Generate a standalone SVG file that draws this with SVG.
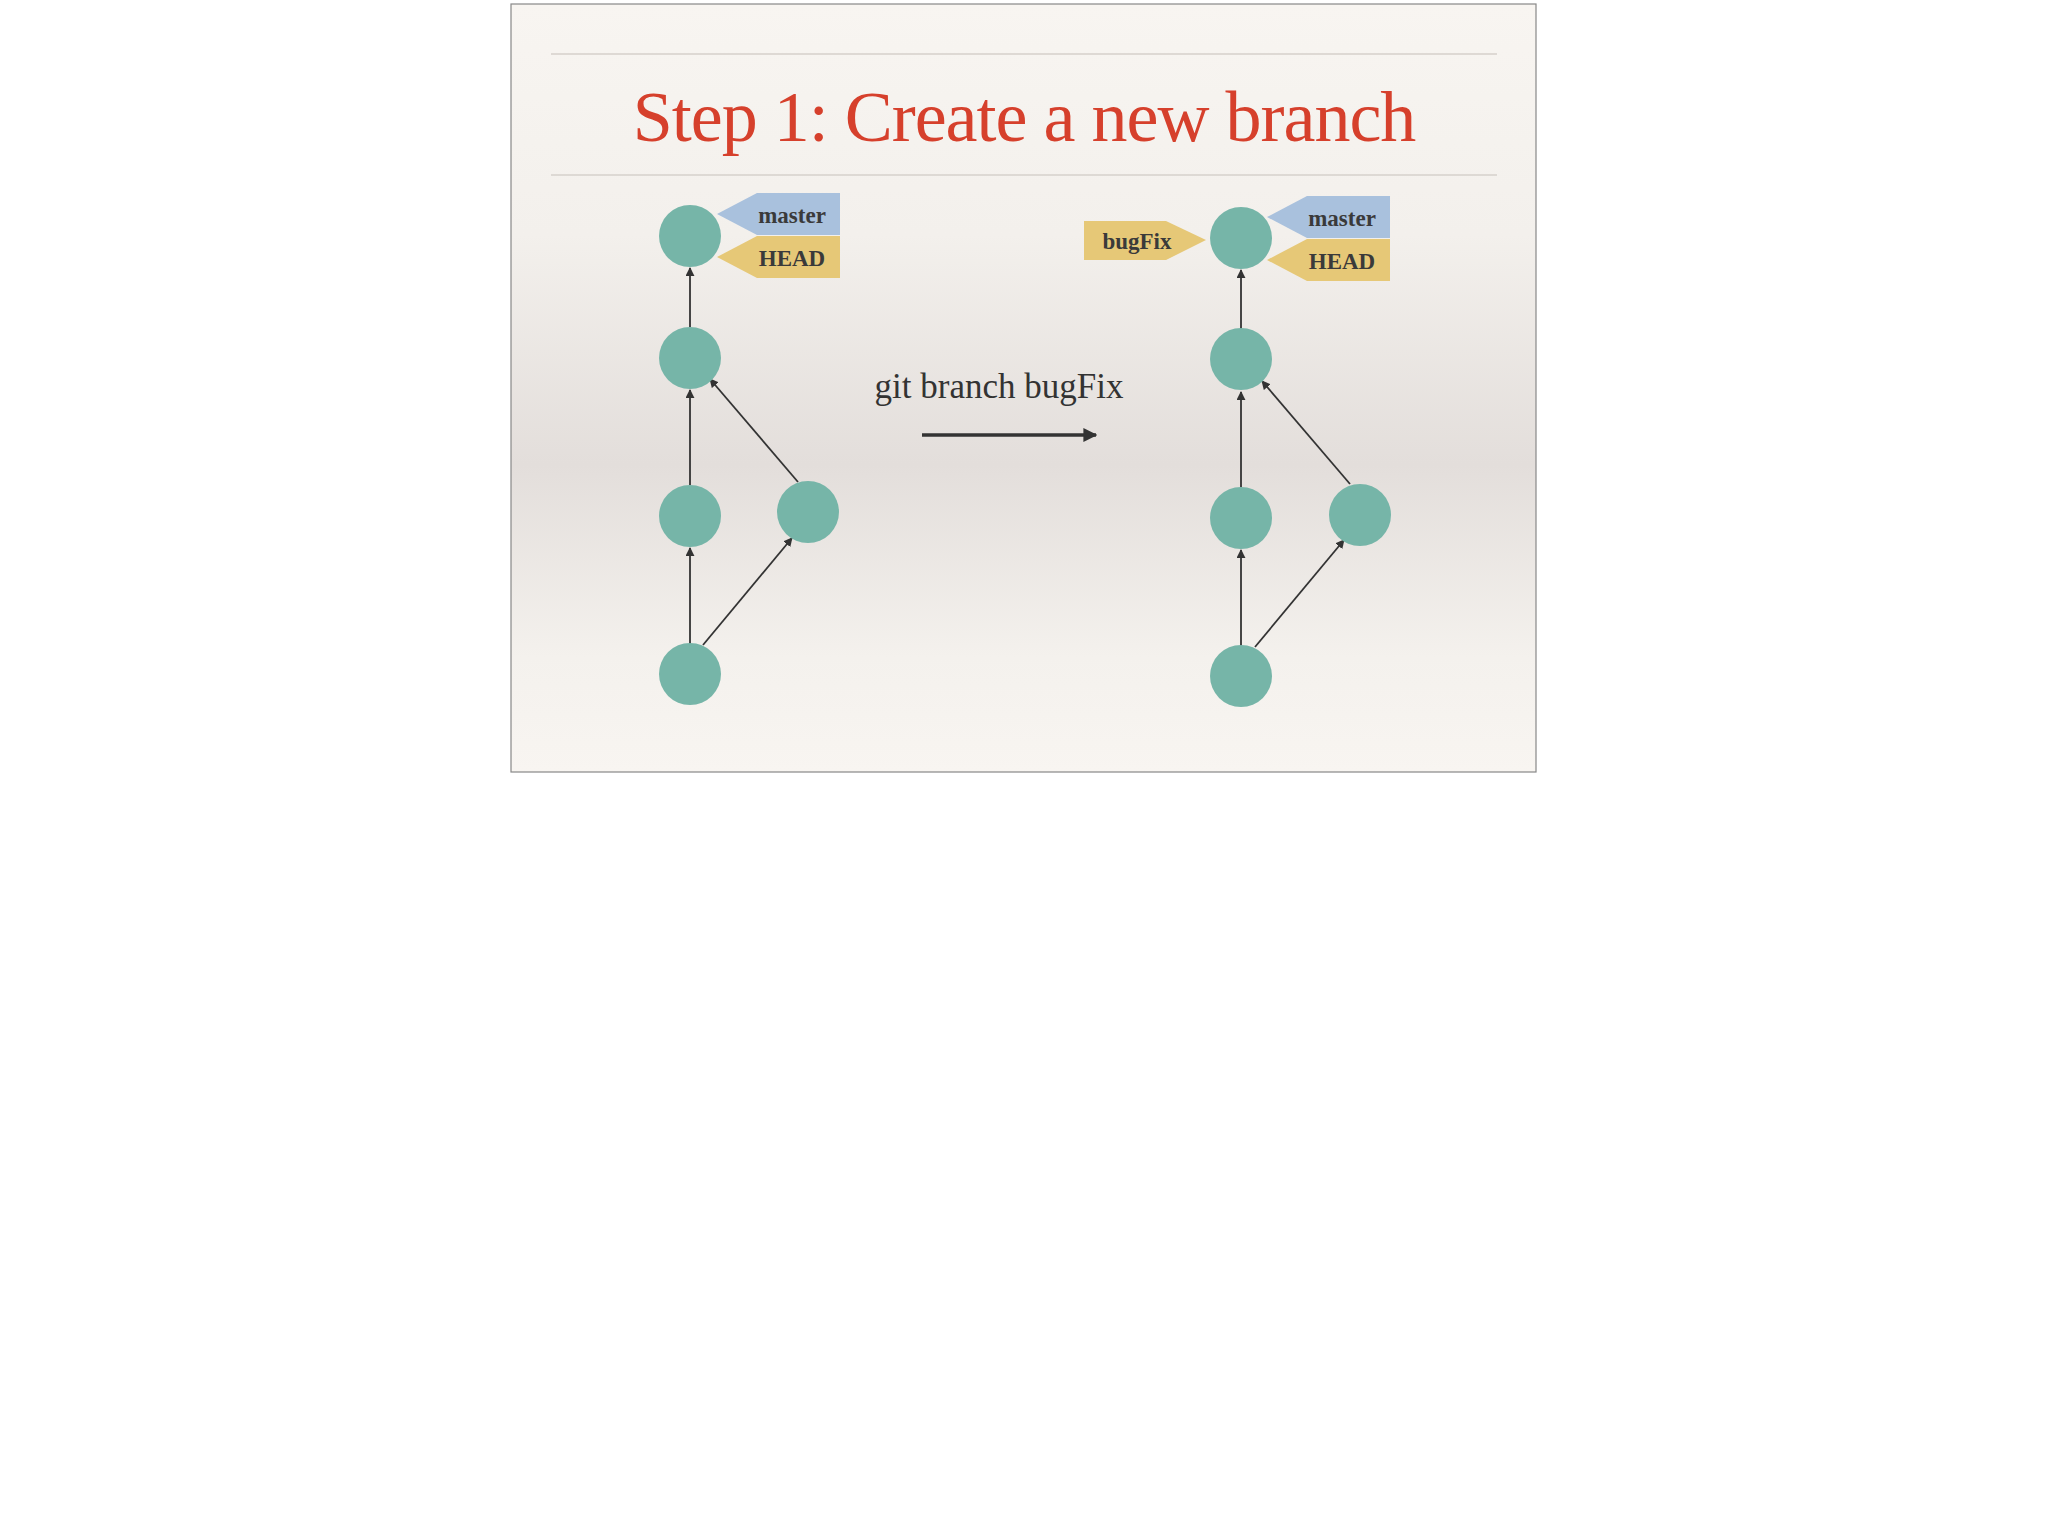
<svg xmlns="http://www.w3.org/2000/svg" width="2048" height="1527" viewBox="0 0 2048 1527">
<defs>
<linearGradient id="bg" x1="0" y1="0" x2="0" y2="1">
<stop offset="0" stop-color="#f8f5f1"/><stop offset="0.3" stop-color="#f3f0ec"/><stop offset="0.6" stop-color="#e3dedb"/><stop offset="0.85" stop-color="#f4f1ed"/><stop offset="1" stop-color="#f8f5f1"/>
</linearGradient>
<marker id="ah" viewBox="0 0 10 10" refX="9" refY="5" markerWidth="5" markerHeight="5" orient="auto"><path d="M0,0L10,5L0,10z" fill="#333"/></marker>
<marker id="ab" viewBox="0 0 10 10" refX="9" refY="5" markerWidth="4" markerHeight="4" orient="auto"><path d="M0,0L10,5L0,10z" fill="#333"/></marker>
<style>
.n{fill:#76b5a8}.e{stroke:#333;stroke-width:1.8;fill:none;marker-end:url(#ah)}
.lb{font-family:"Liberation Serif",serif;font-weight:bold;font-size:23px;fill:#3a3a3a;text-anchor:middle}
.blue{fill:#a9c1dd}.yel{fill:#e6c877}
</style>
</defs>
<rect width="2048" height="1527" fill="#fff"/>
<rect x="511" y="4" width="1025" height="768" fill="url(#bg)" stroke="#888" stroke-width="1.2"/>
<line x1="551" y1="54" x2="1497" y2="54" stroke="#d6d0cb" stroke-width="1.5"/>
<line x1="551" y1="175" x2="1497" y2="175" stroke="#d6d0cb" stroke-width="1.5"/>
<text x="1024" y="141" font-family="Liberation Serif,serif" font-size="72" fill="#d6402c" text-anchor="middle" letter-spacing="-1">Step 1: Create a new branch</text>
<text x="999" y="398" font-family="Liberation Serif,serif" font-size="35" fill="#333" text-anchor="middle">git branch bugFix</text>
<line x1="922" y1="435" x2="1096" y2="435" stroke="#333" stroke-width="3.5" marker-end="url(#ab)"/>
<g id="connectors">
<line class="e" x1="690" y1="327" x2="690" y2="268"/>
<line class="e" x1="690" y1="485" x2="690" y2="390"/>
<line class="e" x1="798" y1="482" x2="710" y2="379"/>
<line class="e" x1="690" y1="645" x2="690" y2="548"/>
<line class="e" x1="703" y1="645" x2="792" y2="538"/>
<line class="e" x1="1241" y1="329" x2="1241" y2="270"/>
<line class="e" x1="1241" y1="487" x2="1241" y2="392"/>
<line class="e" x1="1350" y1="484" x2="1262" y2="381"/>
<line class="e" x1="1241" y1="647" x2="1241" y2="550"/>
<line class="e" x1="1255" y1="647" x2="1344" y2="540"/>
</g>
<g id="L1"><circle class="n" cx="690" cy="236" r="31"/></g>
<g id="L2"><circle class="n" cx="690" cy="358" r="31"/></g>
<g id="L3"><circle class="n" cx="690" cy="516" r="31"/></g>
<g id="L4"><circle class="n" cx="808" cy="512" r="31"/></g>
<g id="L5"><circle class="n" cx="690" cy="674" r="31"/></g>
<g id="R1"><circle class="n" cx="1241" cy="238" r="31"/></g>
<g id="R2"><circle class="n" cx="1241" cy="359" r="31"/></g>
<g id="R3"><circle class="n" cx="1241" cy="518" r="31"/></g>
<g id="R4"><circle class="n" cx="1360" cy="515" r="31"/></g>
<g id="R5"><circle class="n" cx="1241" cy="676" r="31"/></g>
<g id="lmaster"><polygon class="blue" points="717,214 757,193 840,193 840,235 757,235"/><text class="lb" x="792" y="223">master</text></g>
<g id="lhead"><polygon class="yel" points="717,257 757,236 840,236 840,278 757,278"/><text class="lb" x="792" y="266">HEAD</text></g>
<g id="rmaster"><polygon class="blue" points="1267,217 1307,196 1390,196 1390,238 1307,238"/><text class="lb" x="1342" y="226">master</text></g>
<g id="rhead"><polygon class="yel" points="1267,260 1307,239 1390,239 1390,281 1307,281"/><text class="lb" x="1342" y="269">HEAD</text></g>
<g id="bugfix"><polygon class="yel" points="1084,221 1166,221 1206,240 1166,260 1084,260"/><text class="lb" x="1137" y="249">bugFix</text></g>
</svg>
